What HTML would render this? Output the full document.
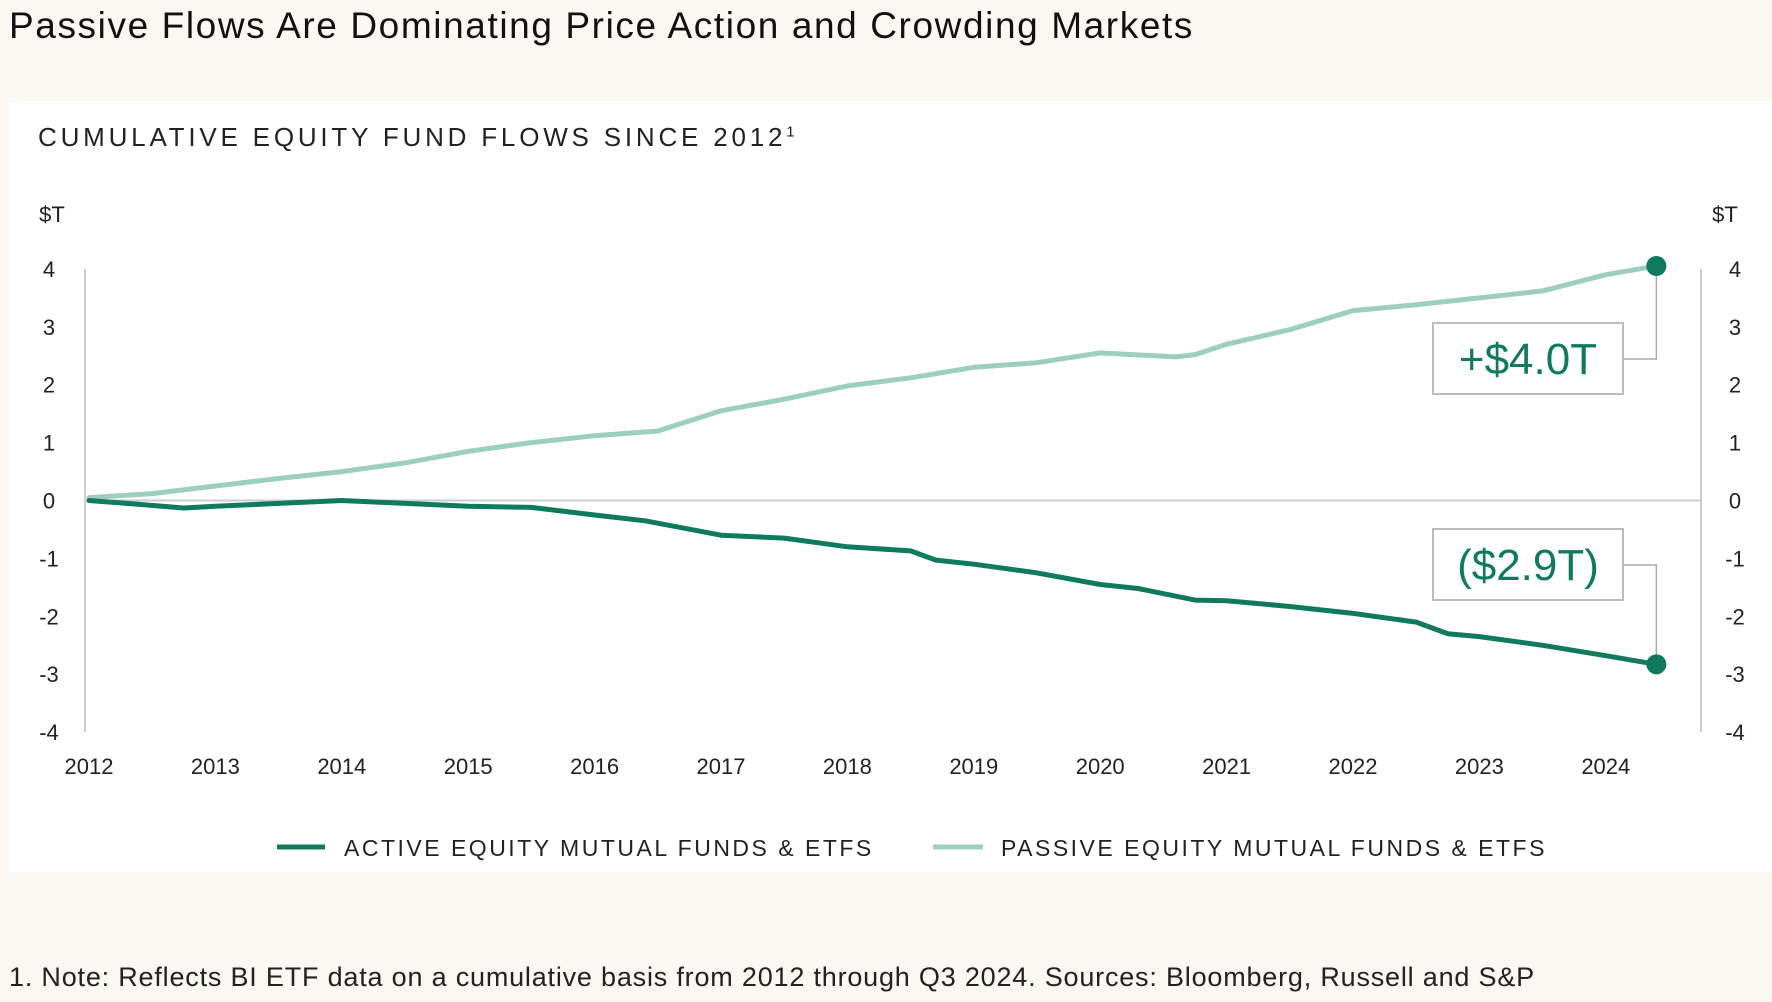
<!DOCTYPE html>
<html><head><meta charset="utf-8"><style>
body{margin:0;width:1772px;height:1002px;background:#fbf7f3;font-family:"Liberation Sans",sans-serif;overflow:hidden;position:relative}
.t{position:absolute;white-space:nowrap}
</style></head><body>
<div class="t" style="left:9px;top:5px;font-size:37px;letter-spacing:1.6px;color:#111">Passive Flows Are Dominating Price Action and Crowding Markets</div>
<div style="position:absolute;left:9px;top:102px;width:1763px;height:770px;background:#fff"></div>
<div class="t" style="left:38px;top:122px;font-size:26px;letter-spacing:3.8px;color:#222">CUMULATIVE EQUITY FUND FLOWS SINCE 2012<sup style="font-size:15px">1</sup></div>
<svg id="c" width="1772" height="1002" style="position:absolute;left:0;top:0"></svg>
<div class="t" style="left:9px;top:962px;font-size:27px;letter-spacing:0.8px;color:#222">1. Note: Reflects BI ETF data on a cumulative basis from 2012 through Q3 2024. Sources: Bloomberg, Russell and S&amp;P</div>
<script>
const years=["2012","2013","2014","2015","2016","2017","2018","2019","2020","2021","2022","2023","2024"];
const yTicks=[4,3,2,1,0,-1,-2,-3,-4];
const passiveT=[0,0.5,1,1.5,2,2.5,3,3.5,4,4.5,5,5.5,6,6.5,7,7.5,8,8.6,8.75,9,9.5,10,10.5,11,11.5,12,12.4];
const passiveV=[0.05,0.12,0.25,0.38,0.5,0.65,0.85,1.0,1.12,1.2,1.55,1.75,1.98,2.12,2.3,2.38,2.55,2.48,2.52,2.7,2.95,3.28,3.38,3.5,3.62,3.9,4.05];
const activeT=[0,0.3,0.75,1,1.5,2,2.5,3,3.5,4,4.4,5,5.5,6,6.5,6.7,7,7.5,8,8.3,8.75,9,9.5,10,10.5,10.75,11,11.5,12,12.4];
const activeV=[0,-0.05,-0.13,-0.1,-0.05,0,-0.05,-0.1,-0.12,-0.25,-0.35,-0.6,-0.65,-0.8,-0.87,-1.03,-1.1,-1.25,-1.45,-1.52,-1.72,-1.73,-1.83,-1.95,-2.1,-2.3,-2.35,-2.5,-2.68,-2.83];
const svg=document.getElementById('c');const NS="http://www.w3.org/2000/svg";
const X=t=>89+t*126.4, Y=v=>500.5-v*57.9;
function mk(tag,a,txt){const e=document.createElementNS(NS,tag);for(const k in a)e.setAttribute(k,a[k]);if(txt!=null)e.textContent=txt;svg.appendChild(e);return e;}
let e;
e=mk('line',{x1:85,y1:269,x2:85,y2:732,stroke:'#ccc','stroke-width':2});
e=mk('line',{x1:1701,y1:269,x2:1701,y2:732,stroke:'#ccc','stroke-width':2});
e=mk('line',{x1:85,y1:Y(0),x2:1701,y2:Y(0),stroke:'#ccc','stroke-width':2});
e=mk('text',{x:52,y:222,'font-size':22,'text-anchor':'middle',fill:'#222'},'$T');
e=mk('text',{x:1725,y:222,'font-size':22,'text-anchor':'middle',fill:'#222'},'$T');
yTicks.forEach(v=>{
 e=mk('text',{x:49,y:Y(v)+8,'font-size':22,'text-anchor':'middle',fill:'#222'},String(v));
 e=mk('text',{x:1735,y:Y(v)+8,'font-size':22,'text-anchor':'middle',fill:'#222'},String(v));
});
years.forEach((y,i)=>{e=mk('text',{x:X(i),y:774,'font-size':22,'text-anchor':'middle',fill:'#222'},y);});
function line(T,V,col,name){const d=T.map((t,i)=>(i?'L':'M')+X(t).toFixed(1)+','+Y(V[i]).toFixed(1)).join('');const p=mk('path',{d:d,fill:'none',stroke:col,'stroke-width':5,'stroke-linejoin':'round','stroke-linecap':'round'});}
line(passiveT,passiveV,'#9ccfc0','passive-line');
line(activeT,activeV,'#0f7a5e','active-line');
const pe=[X(passiveT[passiveT.length-1]),Y(passiveV[passiveV.length-1])];
const ae=[X(activeT[activeT.length-1]),Y(activeV[activeV.length-1])];
e=mk('polyline',{points:`1623,359 ${pe[0]},359 ${pe[0]},${pe[1]}`,fill:'none',stroke:'#aaa','stroke-width':1.5});
e=mk('polyline',{points:`1623,565 ${ae[0]},565 ${ae[0]},${ae[1]}`,fill:'none',stroke:'#aaa','stroke-width':1.5});
e=mk('circle',{cx:pe[0],cy:pe[1],r:10,fill:'#0f7a5e'});
e=mk('circle',{cx:ae[0],cy:ae[1],r:10,fill:'#0f7a5e'});
e=mk('rect',{x:1433,y:323,width:190,height:71,fill:'#fff',stroke:'#bbb','stroke-width':2});
e=mk('text',{x:1528,y:374,'font-size':44,'text-anchor':'middle',fill:'#0f7a5e'},'+$4.0T');
e=mk('rect',{x:1433,y:529,width:190,height:71,fill:'#fff',stroke:'#bbb','stroke-width':2});
e=mk('text',{x:1528,y:580,'font-size':44,'text-anchor':'middle',fill:'#0f7a5e'},'($2.9T)');
e=mk('line',{x1:277,y1:847,x2:325,y2:847,stroke:'#0f7a5e','stroke-width':5});
e=mk('text',{x:344,y:856,'font-size':23,fill:'#222','letter-spacing':2.5},'ACTIVE EQUITY MUTUAL FUNDS & ETFS');
e=mk('line',{x1:933,y1:847,x2:983,y2:847,stroke:'#9ccfc0','stroke-width':5});
e=mk('text',{x:1001,y:856,'font-size':23,fill:'#222','letter-spacing':2.5},'PASSIVE EQUITY MUTUAL FUNDS & ETFS');
</script>
</body></html>
